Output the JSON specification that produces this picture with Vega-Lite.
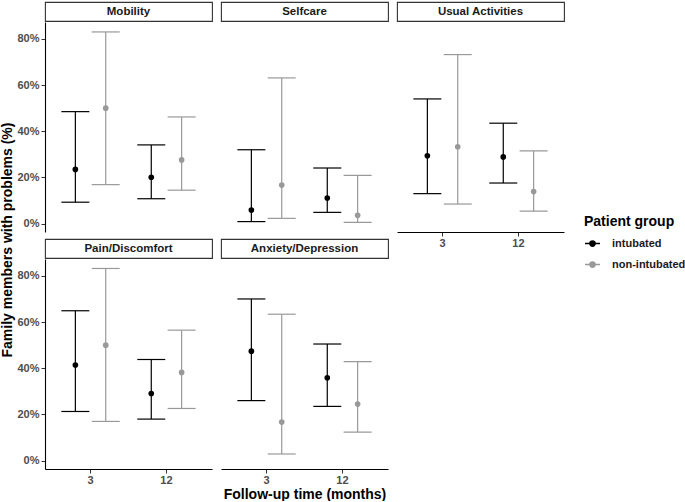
{
  "$schema": "https://vega.github.io/schema/vega-lite/v6.json",
  "padding": {"left": 0, "top": 1, "right": 0, "bottom": 0},
  "background": "white",
  "datasets": {
    "d": [
      {"dim": "Mobility", "time": 3, "group": "intubated", "est": 0.235, "lower": 0.093, "upper": 0.485},
      {"dim": "Mobility", "time": 3, "group": "non-intubated", "est": 0.5, "lower": 0.169, "upper": 0.83},
      {"dim": "Mobility", "time": 12, "group": "intubated", "est": 0.201, "lower": 0.108, "upper": 0.341},
      {"dim": "Mobility", "time": 12, "group": "non-intubated", "est": 0.276, "lower": 0.145, "upper": 0.462},
      {"dim": "Selfcare", "time": 3, "group": "intubated", "est": 0.059, "lower": 0.009, "upper": 0.32},
      {"dim": "Selfcare", "time": 3, "group": "non-intubated", "est": 0.167, "lower": 0.023, "upper": 0.631},
      {"dim": "Selfcare", "time": 12, "group": "intubated", "est": 0.111, "lower": 0.049, "upper": 0.241},
      {"dim": "Selfcare", "time": 12, "group": "non-intubated", "est": 0.036, "lower": 0.006, "upper": 0.209},
      {"dim": "Usual Activities", "time": 3, "group": "intubated", "est": 0.294, "lower": 0.13, "upper": 0.54},
      {"dim": "Usual Activities", "time": 3, "group": "non-intubated", "est": 0.333, "lower": 0.085, "upper": 0.732},
      {"dim": "Usual Activities", "time": 12, "group": "intubated", "est": 0.289, "lower": 0.176, "upper": 0.435},
      {"dim": "Usual Activities", "time": 12, "group": "non-intubated", "est": 0.139, "lower": 0.054, "upper": 0.315},
      {"dim": "Pain/Discomfort", "time": 3, "group": "intubated", "est": 0.414, "lower": 0.213, "upper": 0.649},
      {"dim": "Pain/Discomfort", "time": 3, "group": "non-intubated", "est": 0.5, "lower": 0.17, "upper": 0.832},
      {"dim": "Pain/Discomfort", "time": 12, "group": "intubated", "est": 0.291, "lower": 0.18, "upper": 0.438},
      {"dim": "Pain/Discomfort", "time": 12, "group": "non-intubated", "est": 0.382, "lower": 0.226, "upper": 0.565},
      {"dim": "Anxiety/Depression", "time": 3, "group": "intubated", "est": 0.474, "lower": 0.26, "upper": 0.7},
      {"dim": "Anxiety/Depression", "time": 3, "group": "non-intubated", "est": 0.167, "lower": 0.029, "upper": 0.634},
      {"dim": "Anxiety/Depression", "time": 12, "group": "intubated", "est": 0.359, "lower": 0.235, "upper": 0.505},
      {"dim": "Anxiety/Depression", "time": 12, "group": "non-intubated", "est": 0.245, "lower": 0.124, "upper": 0.429}
    ]
  },
  "spacing": 0,
  "hconcat": [
    {"width": 14, "height": 476, "data": {"values": [{"t": "Family members with problems (%)"}]}, "mark": {"type": "text", "angle": 270, "fontWeight": "bold", "fontSize": 14, "color": "#000000"}, "encoding": {"text": {"field": "t"}}},
    {
      "spacing": 7,
      "hconcat": [
        {
          "spacing": 6,
          "vconcat": [
            {
              "spacing": 0,
              "vconcat": [
                {"width": 167, "height": 19, "data": {"values": [{"label": "Mobility"}]}, "mark": {"type": "text", "fontWeight": "bold", "fontSize": 11.5, "color": "#1a1a1a"}, "encoding": {"text": {"field": "label"}}, "view": {"stroke": "#333333", "strokeWidth": 1.1, "fill": "white"}},
                {
                  "width": 167, "height": 210,
                  "data": {"name": "d"},
                  "transform": [{"filter": "datum.dim === 'Mobility'"}],
                  "encoding": {
                    "x": {"field": "time", "type": "ordinal", "scale": {"domain": [3, 12], "paddingInner": 0, "paddingOuter": 0.1}, "axis": null},
                    "xOffset": {"field": "group", "type": "nominal", "scale": {"domain": ["intubated", "non-intubated"], "paddingInner": 0, "paddingOuter": 0.25}},
                    "color": {"field": "group", "type": "nominal", "scale": {"domain": ["intubated", "non-intubated"], "range": ["#000000", "#999999"]}, "legend": {"title": "Patient group", "orient": "none", "legendX": 583, "legendY": 213, "symbolType": "M-1,0L1,0M-0.35,0A0.35,0.35,0,1,0,0.35,0A0.35,0.35,0,1,0,-0.35,0Z", "encode": {"symbols": {"update": {"fill": {"scale": "color", "field": "value"}, "stroke": {"scale": "color", "field": "value"}, "strokeWidth": {"value": 1.5}, "opacity": {"value": 1}}}}}}
                  },
                  "layer": [
                    {"mark": {"type": "rule", "strokeWidth": 1.2}, "encoding": {"y": {"field": "lower", "type": "quantitative", "scale": {"domain": [-0.036, 0.873], "nice": false, "zero": false}, "axis": {"values": [0, 0.2, 0.4, 0.6, 0.8], "format": ".0%", "title": null}}, "y2": {"field": "upper"}}},
                    {"mark": {"type": "tick", "size": 28, "thickness": 1.2, "opacity": 1}, "encoding": {"y": {"field": "lower", "type": "quantitative", "scale": {"domain": [-0.036, 0.873], "nice": false, "zero": false}, "axis": {"values": [0, 0.2, 0.4, 0.6, 0.8], "format": ".0%", "title": null}}}},
                    {"mark": {"type": "tick", "size": 28, "thickness": 1.2, "opacity": 1}, "encoding": {"y": {"field": "upper", "type": "quantitative", "scale": {"domain": [-0.036, 0.873], "nice": false, "zero": false}, "axis": {"values": [0, 0.2, 0.4, 0.6, 0.8], "format": ".0%", "title": null}}}},
                    {"mark": {"type": "point", "filled": true, "size": 32, "opacity": 1}, "encoding": {"y": {"field": "est", "type": "quantitative", "scale": {"domain": [-0.036, 0.873], "nice": false, "zero": false}, "axis": {"values": [0, 0.2, 0.4, 0.6, 0.8], "format": ".0%", "title": null}}}}
                  ]
                }
              ]
            },
            {
              "spacing": 0,
              "vconcat": [
                {"width": 167, "height": 19, "data": {"values": [{"label": "Pain/Discomfort"}]}, "mark": {"type": "text", "fontWeight": "bold", "fontSize": 11.5, "color": "#1a1a1a"}, "encoding": {"text": {"field": "label"}}, "view": {"stroke": "#333333", "strokeWidth": 1.1, "fill": "white"}},
                {
                  "width": 167, "height": 210,
                  "data": {"name": "d"},
                  "transform": [{"filter": "datum.dim === 'Pain/Discomfort'"}],
                  "encoding": {
                    "x": {"field": "time", "type": "ordinal", "scale": {"domain": [3, 12], "paddingInner": 0, "paddingOuter": 0.1}, "axis": {"title": null}},
                    "xOffset": {"field": "group", "type": "nominal", "scale": {"domain": ["intubated", "non-intubated"], "paddingInner": 0, "paddingOuter": 0.25}},
                    "color": {"field": "group", "type": "nominal", "scale": {"domain": ["intubated", "non-intubated"], "range": ["#000000", "#999999"]}}
                  },
                  "layer": [
                    {"mark": {"type": "rule", "strokeWidth": 1.2}, "encoding": {"y": {"field": "lower", "type": "quantitative", "scale": {"domain": [-0.036, 0.873], "nice": false, "zero": false}, "axis": {"values": [0, 0.2, 0.4, 0.6, 0.8], "format": ".0%", "title": null}}, "y2": {"field": "upper"}}},
                    {"mark": {"type": "tick", "size": 28, "thickness": 1.2, "opacity": 1}, "encoding": {"y": {"field": "lower", "type": "quantitative", "scale": {"domain": [-0.036, 0.873], "nice": false, "zero": false}, "axis": {"values": [0, 0.2, 0.4, 0.6, 0.8], "format": ".0%", "title": null}}}},
                    {"mark": {"type": "tick", "size": 28, "thickness": 1.2, "opacity": 1}, "encoding": {"y": {"field": "upper", "type": "quantitative", "scale": {"domain": [-0.036, 0.873], "nice": false, "zero": false}, "axis": {"values": [0, 0.2, 0.4, 0.6, 0.8], "format": ".0%", "title": null}}}},
                    {"mark": {"type": "point", "filled": true, "size": 32, "opacity": 1}, "encoding": {"y": {"field": "est", "type": "quantitative", "scale": {"domain": [-0.036, 0.873], "nice": false, "zero": false}, "axis": {"values": [0, 0.2, 0.4, 0.6, 0.8], "format": ".0%", "title": null}}}}
                  ]
                }
              ]
            }
          ]
        },
        {
          "spacing": 6,
          "vconcat": [
            {
              "spacing": 0,
              "vconcat": [
                {"width": 167, "height": 19, "data": {"values": [{"label": "Selfcare"}]}, "mark": {"type": "text", "fontWeight": "bold", "fontSize": 11.5, "color": "#1a1a1a"}, "encoding": {"text": {"field": "label"}}, "view": {"stroke": "#333333", "strokeWidth": 1.1, "fill": "white"}},
                {
                  "width": 167, "height": 210,
                  "data": {"name": "d"},
                  "transform": [{"filter": "datum.dim === 'Selfcare'"}],
                  "encoding": {
                    "x": {"field": "time", "type": "ordinal", "scale": {"domain": [3, 12], "paddingInner": 0, "paddingOuter": 0.1}, "axis": null},
                    "xOffset": {"field": "group", "type": "nominal", "scale": {"domain": ["intubated", "non-intubated"], "paddingInner": 0, "paddingOuter": 0.25}},
                    "color": {"field": "group", "type": "nominal", "scale": {"domain": ["intubated", "non-intubated"], "range": ["#000000", "#999999"]}}
                  },
                  "layer": [
                    {"mark": {"type": "rule", "strokeWidth": 1.2}, "encoding": {"y": {"field": "lower", "type": "quantitative", "scale": {"domain": [-0.036, 0.873], "nice": false, "zero": false}, "axis": null}, "y2": {"field": "upper"}}},
                    {"mark": {"type": "tick", "size": 28, "thickness": 1.2, "opacity": 1}, "encoding": {"y": {"field": "lower", "type": "quantitative", "scale": {"domain": [-0.036, 0.873], "nice": false, "zero": false}, "axis": null}}},
                    {"mark": {"type": "tick", "size": 28, "thickness": 1.2, "opacity": 1}, "encoding": {"y": {"field": "upper", "type": "quantitative", "scale": {"domain": [-0.036, 0.873], "nice": false, "zero": false}, "axis": null}}},
                    {"mark": {"type": "point", "filled": true, "size": 32, "opacity": 1}, "encoding": {"y": {"field": "est", "type": "quantitative", "scale": {"domain": [-0.036, 0.873], "nice": false, "zero": false}, "axis": null}}}
                  ]
                }
              ]
            },
            {
              "spacing": 0,
              "vconcat": [
                {"width": 167, "height": 19, "data": {"values": [{"label": "Anxiety/Depression"}]}, "mark": {"type": "text", "fontWeight": "bold", "fontSize": 11.5, "color": "#1a1a1a"}, "encoding": {"text": {"field": "label"}}, "view": {"stroke": "#333333", "strokeWidth": 1.1, "fill": "white"}},
                {
                  "width": 167, "height": 210,
                  "data": {"name": "d"},
                  "transform": [{"filter": "datum.dim === 'Anxiety/Depression'"}],
                  "encoding": {
                    "x": {"field": "time", "type": "ordinal", "scale": {"domain": [3, 12], "paddingInner": 0, "paddingOuter": 0.1}, "axis": {"title": "Follow-up time (months)"}},
                    "xOffset": {"field": "group", "type": "nominal", "scale": {"domain": ["intubated", "non-intubated"], "paddingInner": 0, "paddingOuter": 0.25}},
                    "color": {"field": "group", "type": "nominal", "scale": {"domain": ["intubated", "non-intubated"], "range": ["#000000", "#999999"]}}
                  },
                  "layer": [
                    {"mark": {"type": "rule", "strokeWidth": 1.2}, "encoding": {"y": {"field": "lower", "type": "quantitative", "scale": {"domain": [-0.036, 0.873], "nice": false, "zero": false}, "axis": null}, "y2": {"field": "upper"}}},
                    {"mark": {"type": "tick", "size": 28, "thickness": 1.2, "opacity": 1}, "encoding": {"y": {"field": "lower", "type": "quantitative", "scale": {"domain": [-0.036, 0.873], "nice": false, "zero": false}, "axis": null}}},
                    {"mark": {"type": "tick", "size": 28, "thickness": 1.2, "opacity": 1}, "encoding": {"y": {"field": "upper", "type": "quantitative", "scale": {"domain": [-0.036, 0.873], "nice": false, "zero": false}, "axis": null}}},
                    {"mark": {"type": "point", "filled": true, "size": 32, "opacity": 1}, "encoding": {"y": {"field": "est", "type": "quantitative", "scale": {"domain": [-0.036, 0.873], "nice": false, "zero": false}, "axis": null}}}
                  ]
                }
              ]
            }
          ]
        },
        {
          "spacing": 0,
          "vconcat": [
            {"width": 167, "height": 19, "data": {"values": [{"label": "Usual Activities"}]}, "mark": {"type": "text", "fontWeight": "bold", "fontSize": 11.5, "color": "#1a1a1a"}, "encoding": {"text": {"field": "label"}}, "view": {"stroke": "#333333", "strokeWidth": 1.1, "fill": "white"}},
            {
              "width": 167, "height": 210,
              "data": {"name": "d"},
              "transform": [{"filter": "datum.dim === 'Usual Activities'"}],
              "encoding": {
                "x": {"field": "time", "type": "ordinal", "scale": {"domain": [3, 12], "paddingInner": 0, "paddingOuter": 0.1}, "axis": {"title": null}},
                "xOffset": {"field": "group", "type": "nominal", "scale": {"domain": ["intubated", "non-intubated"], "paddingInner": 0, "paddingOuter": 0.25}},
                "color": {"field": "group", "type": "nominal", "scale": {"domain": ["intubated", "non-intubated"], "range": ["#000000", "#999999"]}}
              },
              "layer": [
                {"mark": {"type": "rule", "strokeWidth": 1.2}, "encoding": {"y": {"field": "lower", "type": "quantitative", "scale": {"domain": [-0.036, 0.873], "nice": false, "zero": false}, "axis": null}, "y2": {"field": "upper"}}},
                {"mark": {"type": "tick", "size": 28, "thickness": 1.2, "opacity": 1}, "encoding": {"y": {"field": "lower", "type": "quantitative", "scale": {"domain": [-0.036, 0.873], "nice": false, "zero": false}, "axis": null}}},
                {"mark": {"type": "tick", "size": 28, "thickness": 1.2, "opacity": 1}, "encoding": {"y": {"field": "upper", "type": "quantitative", "scale": {"domain": [-0.036, 0.873], "nice": false, "zero": false}, "axis": null}}},
                {"mark": {"type": "point", "filled": true, "size": 32, "opacity": 1}, "encoding": {"y": {"field": "est", "type": "quantitative", "scale": {"domain": [-0.036, 0.873], "nice": false, "zero": false}, "axis": null}}}
              ]
            }
          ]
        }
      ]
    }
  ],
  "config": {
    "font": "Liberation Sans",
    "view": {"stroke": null},
    "axis": {"domainColor": "#000000", "domainWidth": 1.1, "tickColor": "#333333", "tickSize": 4, "tickWidth": 1, "labelFont": "Liberation Sans", "labelFontWeight": "bold", "labelFontSize": 11, "labelColor": "#4d4d4d", "labelPadding": 2, "grid": false, "titleFont": "Liberation Sans", "titleFontSize": 14, "titleFontWeight": "bold", "titleColor": "#000000", "titlePadding": 3},
    "axisX": {"labelAngle": 0, "labelPadding": 1, "titlePadding": 2},
    "legend": {"titleFont": "Liberation Sans", "titleFontSize": 14, "titleFontWeight": "bold", "titleColor": "#000000", "titlePadding": 6, "labelFont": "Liberation Sans", "labelFontSize": 11, "labelFontWeight": "bold", "labelColor": "#1a1a1a", "labelOffset": 11, "symbolSize": 225, "rowPadding": 6}
  }
}
